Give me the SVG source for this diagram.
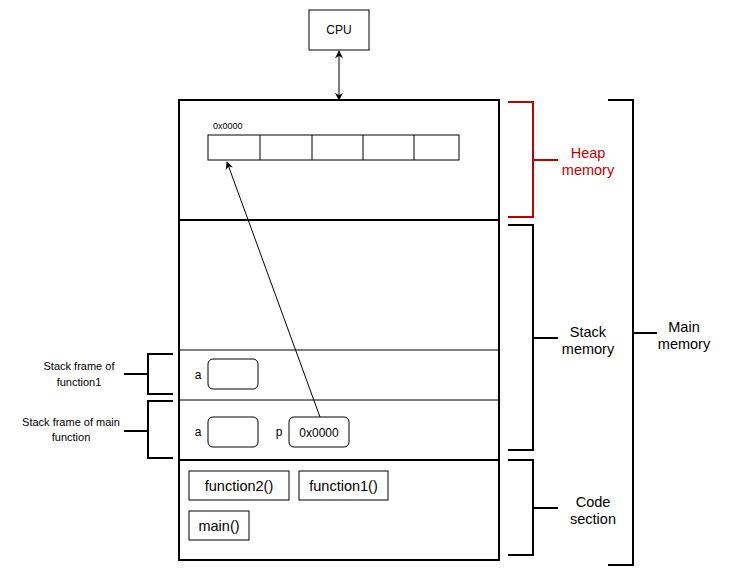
<svg xmlns="http://www.w3.org/2000/svg" width="735" height="577" viewBox="0 0 735 577">
<style>
text{font-family:"Liberation Sans",Arial,sans-serif;fill:#000;text-anchor:middle}
.t14{font-size:14.5px}
.t12{font-size:12px}
.t11{font-size:11px}
.t9{font-size:9px;text-anchor:start}
.box{fill:#fff;stroke:#000;stroke-width:1}
.br{fill:none;stroke:#000;stroke-width:2}
.red{stroke:#c00000}
.redt{fill:#c00000}
</style>
<defs>
<marker id="ah" viewBox="0 0 10 10" refX="9" refY="5" markerWidth="8" markerHeight="8" orient="auto-start-reverse" markerUnits="userSpaceOnUse">
<path d="M0,0 L10,5 L0,10 L3,5 Z" fill="#000"/>
</marker>
</defs>
<rect width="735" height="577" fill="#fff"/>
<g id="cpu"><rect class="box" x="309" y="10" width="60" height="40"/><text class="t12" x="339" y="34">CPU</text></g>
<g id="memory">
<rect x="179" y="100" width="320" height="460" fill="#fff" stroke="#000" stroke-width="2"/>
<line x1="179" y1="220" x2="499" y2="220" stroke="#000" stroke-width="2"/>
<line x1="179" y1="350" x2="499" y2="350" stroke="#000" stroke-width="1"/>
<line x1="179" y1="400" x2="499" y2="400" stroke="#000" stroke-width="1"/>
<line x1="179" y1="460" x2="499" y2="460" stroke="#000" stroke-width="2"/>
</g>
<g id="heap-array">
<text class="t9" x="213" y="129">0x0000</text>
<rect class="box" x="208" y="135" width="251" height="25"/>
<line x1="260" y1="135" x2="260" y2="160" stroke="#000"/>
<line x1="312" y1="135" x2="312" y2="160" stroke="#000"/>
<line x1="363" y1="135" x2="363" y2="160" stroke="#000"/>
<line x1="414" y1="135" x2="414" y2="160" stroke="#000"/>
</g>
<g id="frame-function1">
<text class="t12" x="198" y="379">a</text>
<rect class="box" x="208" y="359" width="50" height="30" rx="5"/>
</g>
<g id="frame-main">
<text class="t12" x="198" y="436">a</text>
<rect class="box" x="208" y="417" width="50" height="30" rx="5"/>
<text class="t12" x="279" y="436">p</text>
<rect class="box" x="289" y="417" width="60" height="30" rx="5"/>
<text class="t12" x="319" y="437">0x0000</text>
</g>
<g id="code">
<rect class="box" x="189" y="471" width="100" height="29"/><text class="t14" x="239" y="491">function2()</text>
<rect class="box" x="299" y="471" width="89" height="29"/><text class="t14" x="343.5" y="491">function1()</text>
<rect class="box" x="189" y="511" width="60" height="29"/><text class="t14" x="219" y="531">main()</text>
</g>
<g id="connectors">
<line x1="339" y1="51" x2="339" y2="100" stroke="#000" stroke-width="1" marker-start="url(#ah)" marker-end="url(#ah)"/>
<line x1="320" y1="417" x2="227" y2="162" stroke="#000" stroke-width="1" marker-end="url(#ah)"/>
</g>
<g id="label-function1">
<path class="br" d="M173,354 H148 V394 H173 M148,374 H124"/>
<text class="t11" x="79" y="370">Stack frame of</text>
<text class="t11" x="79" y="386">function1</text>
</g>
<g id="label-main">
<path class="br" d="M173,401 H148 V458 H173 M148,431 H124"/>
<text class="t11" x="71" y="426">Stack frame of main</text>
<text class="t11" x="71" y="441">function</text>
</g>
<g id="label-heap">
<path class="br red" d="M508,102 H533 V217 H508 M533,160 H558"/>
<text class="t14 redt" x="588" y="158">Heap</text>
<text class="t14 redt" x="588" y="175">memory</text>
</g>
<g id="label-stack">
<path class="br" d="M508,225 H533 V450 H508 M533,338 H558"/>
<text class="t14" x="588" y="337">Stack</text>
<text class="t14" x="588" y="354">memory</text>
</g>
<g id="label-code">
<path class="br" d="M508,460 H533 V555 H508 M533,508 H558"/>
<text class="t14" x="593" y="507">Code</text>
<text class="t14" x="593" y="524">section</text>
</g>
<g id="label-main-memory">
<path class="br" d="M608,100 H633 V565 H608 M633,333 H657"/>
<text class="t14" x="684" y="332">Main</text>
<text class="t14" x="684" y="349">memory</text>
</g>
</svg>
